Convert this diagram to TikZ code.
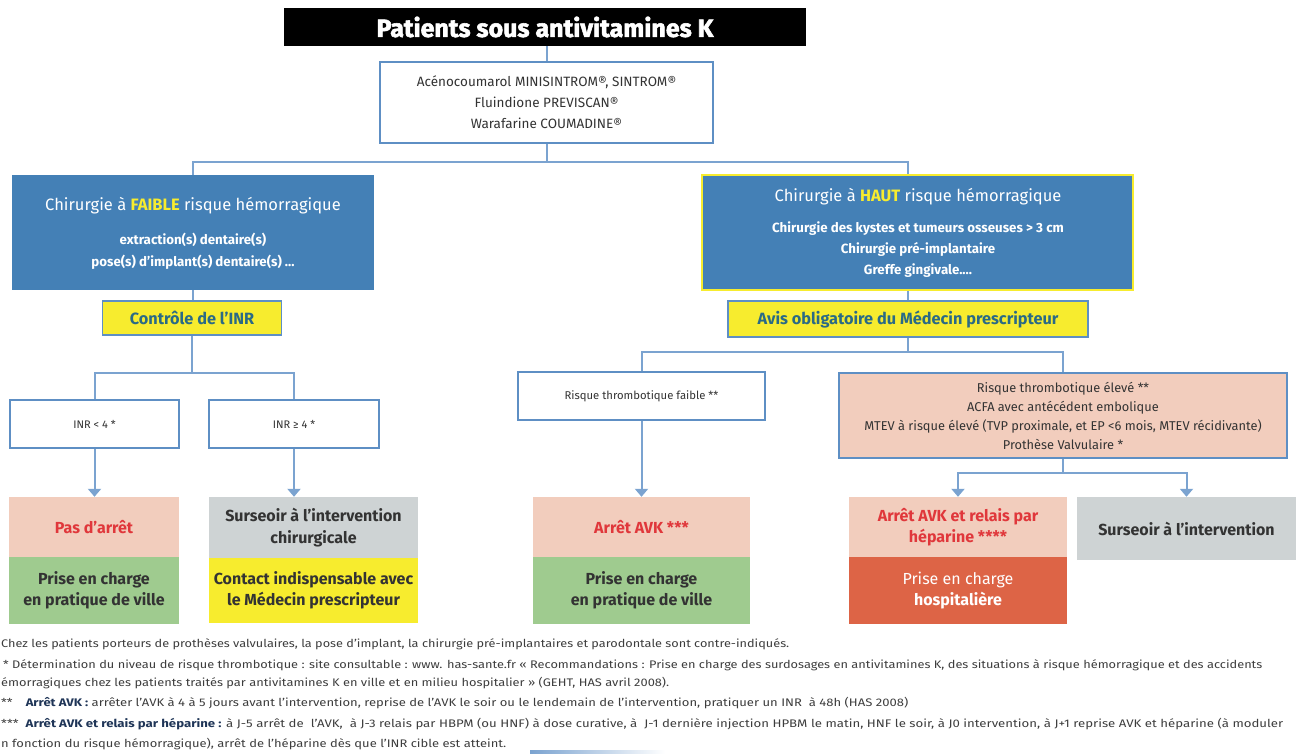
\documentclass[tikz,border=0pt]{standalone}
\usepackage{fontspec}
\setmainfont{Fira Sans}
\newfontfamily\titlefont[FakeBold=2.2]{Fira Sans}
\usetikzlibrary{arrows.meta,calc}
\definecolor{boxblue}{HTML}{4480B6}
\definecolor{lineblue}{HTML}{7BA3D0}
\definecolor{frameblue}{HTML}{5E8FC4}
\definecolor{hiyellow}{HTML}{F7EC2E}
\definecolor{salmon}{HTML}{F2CDBD}
\definecolor{vgreen}{HTML}{9FCB8F}
\definecolor{lgray}{HTML}{CED3D4}
\definecolor{hosp}{HTML}{DD6446}
\definecolor{redtxt}{HTML}{E0373B}
\definecolor{tealtxt}{HTML}{2A6A86}
\definecolor{darktxt}{HTML}{333333}
\definecolor{notetxt}{HTML}{3D3D3D}
\definecolor{navytxt}{HTML}{1F3557}
\newcommand\fitw[2]{\resizebox{#1}{\height}{#2}}
\tikzset{
  conn/.style={draw=lineblue, line width=2pt},
  arr/.style={conn, -{Triangle[width=13pt,length=8pt]}},
  whitebox/.style={draw=frameblue, line width=1.6pt, fill=white, inner sep=0pt, align=center, text=darktxt},
  bluebox/.style={fill=boxblue, inner sep=0pt, align=center, text=white},
  yelbox/.style={draw=frameblue, line width=1.4pt, fill=hiyellow, inner sep=0pt, align=center, text=tealtxt, font=\fontsize{16.3}{18}\selectfont\bfseries},
  resbox/.style={inner sep=0pt, align=center, font=\fontsize{16}{21.5}\selectfont\bfseries},
  note/.style={anchor=west, inner sep=0pt, text=notetxt, font=\fontsize{11}{12}\selectfont}
}
\begin{document}
\begin{tikzpicture}[x=1pt,y=-1pt]
\useasboundingbox (0,0) rectangle (1303,753);
% title
\node[fill=black, text=white, minimum width=522pt, minimum height=38pt, inner sep=0pt, font=\fontsize{25}{27}\titlefont\bfseries] (title) at (545,27) {Patients sous antivitamines K};
% drugs
\node[whitebox, minimum width=333pt, minimum height=81pt, font=\fontsize{13.5}{21}\selectfont] (drug) at (546.5,102.5)
  {Acénocoumarol MINISINTROM®, SINTROM®\\Fluindione PREVISCAN®\\Warafarine COUMADINE®};
% blue boxes
\node[bluebox, minimum width=362pt, minimum height=115pt] (lblue) at (193,232.5) {};
\node[text=white, font=\fontsize{16.5}{18}\selectfont] at (193,206) {Chirurgie à \textcolor{hiyellow}{\bfseries FAIBLE} risque hémorragique};
\node[text=white, align=center, font=\fontsize{13.3}{22}\selectfont\bfseries] at (193,251) {extraction(s) dentaire(s)\\pose(s) d’implant(s) dentaire(s) ...};
\node[bluebox, draw=hiyellow, line width=1.6pt, minimum width=431pt, minimum height=115pt] (rblue) at (917.5,232.5) {};
\node[text=white, font=\fontsize{16.5}{18}\selectfont] at (918,197) {Chirurgie à \textcolor{hiyellow}{\bfseries HAUT} risque hémorragique};
\node[text=white, align=center, font=\fontsize{13.3}{21}\selectfont\bfseries] at (918,250) {Chirurgie des kystes et tumeurs osseuses > 3 cm\\Chirurgie pré-implantaire\\Greffe gingivale....};
% yellow
\node[yelbox, minimum width=179pt, minimum height=34pt] (lyel) at (192,318) {Contrôle de l’INR};
\node[yelbox, minimum width=360pt, minimum height=36pt] (ryel) at (908,319) {Avis obligatoire du Médecin prescripteur};
% INR boxes
\node[whitebox, minimum width=169pt, minimum height=48pt, font=\fontsize{11}{13}\selectfont] (inra) at (94.5,424) {INR < 4 *};
\node[whitebox, minimum width=170pt, minimum height=48pt, font=\fontsize{11}{13}\selectfont] (inrb) at (294,424) {INR ≥ 4 *};
% right mid boxes
\node[whitebox, minimum width=247pt, minimum height=48pt, font=\fontsize{11.3}{13}\selectfont] (rfaible) at (641.5,396) {Risque thrombotique faible **};
\node[whitebox, fill=salmon, minimum width=448pt, minimum height=85pt, font=\fontsize{12.8}{19}\selectfont] (eleve) at (1063,415.5)
  {Risque thrombotique élevé **\\ACFA avec antécédent embolique\\MTEV à risque élevé (TVP proximale, et EP <6 mois, MTEV récidivante)\\Prothèse Valvulaire *};
% result boxes
\node[resbox, fill=salmon, text=redtxt, minimum width=170pt, minimum height=60pt] (pas) at (94,527) {Pas d’arrêt};
\node[resbox, fill=vgreen, text=darktxt, minimum width=170pt, minimum height=67pt] (villea) at (94,590.5) {Prise en charge\\en pratique de ville};
\node[resbox, fill=lgray, text=darktxt, minimum width=209pt, minimum height=61pt] (sursa) at (313.5,527.5) {Surseoir à l’intervention\\chirurgicale};
\node[resbox, fill=hiyellow, text=darktxt, minimum width=209pt, minimum height=65pt] (contact) at (313.5,590.5) {Contact indispensable avec\\le Médecin prescripteur};
\node[resbox, fill=salmon, text=redtxt, minimum width=217pt, minimum height=60pt] (arret) at (641.5,527) {Arrêt AVK ***};
\node[resbox, fill=vgreen, text=darktxt, minimum width=217pt, minimum height=67pt] (villeb) at (641.5,590.5) {Prise en charge\\en pratique de ville};
\node[resbox, fill=salmon, text=redtxt, minimum width=218pt, minimum height=60pt] (relais) at (958,527) {Arrêt AVK et relais par\\héparine ****};
\node[resbox, fill=hosp, text=white, minimum width=218pt, minimum height=67pt] (hospit) at (958,590.5) {{\mdseries Prise en charge}\\hospitalière};
\node[resbox, fill=lgray, text=darktxt, minimum width=219pt, minimum height=63pt] (sursb) at (1186.5,528.5) {Surseoir à l’intervention};
% connectors
\draw[conn] (title.south -| drug) -- (drug.north);
\draw[conn] (drug.south) -- ++(0,18) coordinate (h1) -| (lblue.north);
\draw[conn] (h1) -| (ryel.center |- rblue.north);
\draw[conn] (lblue.south) -- (lblue.south |- lyel.north);
\draw[conn] (ryel.center |- rblue.south) -- (ryel.north);
\draw[conn] (lyel.south) -- ++(0,37) coordinate (h2) -| (inra.north);
\draw[conn] (h2) -| (inrb.north);
\draw[arr] (inra.south) -- (inra.south |- pas.north);
\draw[arr] (inrb.south) -- (inrb.south |- sursa.north);
\draw[conn] (ryel.south) -- ++(0,14) coordinate (h3) -| (rfaible.north);
\draw[conn] (h3) -| (eleve.north);
\draw[arr] (rfaible.south) -- (arret.north);
\draw[conn] (eleve.south) -- ++(0,14) coordinate (h4);
\draw[arr] (h4) -| (relais.north);
\draw[arr] (h4) -| (sursb.north);
% footnotes
\node[note] (n1) at (1,644) {\fitw{788pt}{Chez les patients porteurs de prothèses valvulaires, la pose d’implant, la chirurgie pré-implantaires et parodontale sont contre-indiqués.}};
\node[note] (n2) at (3,665) {\fitw{1259pt}{* Détermination du niveau de risque thrombotique : site consultable : www. has-sante.fr « Recommandations : Prise en charge des surdosages en antivitamines K, des situations à risque hémorragique et des accidents}};
\node[note] (n3) at (1,683) {\fitw{668pt}{émorragiques chez les patients traités par antivitamines K en ville et en milieu hospitalier » (GEHT, HAS avril 2008).}};
\node[note] (n4) at (1,703) {\fitw{907pt}{**\quad\textcolor{navytxt}{\bfseries Arrêt AVK :} arrêter l’AVK à 4 à 5 jours avant l’intervention, reprise de l’AVK le soir ou le lendemain de l’intervention, pratiquer un INR\ \ à 48h (HAS 2008)}};
\node[note] (n5) at (1,724) {\fitw{1282pt}{***\ \ \textcolor{navytxt}{\bfseries Arrêt AVK et relais par héparine :} à J-5 arrêt de\ \ l’AVK,\ \ à J-3 relais par HBPM (ou HNF) à dose curative, à\ \ J-1 dernière injection HPBM le matin, HNF le soir, à J0 intervention, à J+1 reprise AVK et héparine (à moduler}};
\node[note] (n6) at (1,744) {\fitw{505pt}{n fonction du risque hémorragique), arrêt de l’héparine dès que l’INR cible est atteint.}};
\shade[left color=lineblue, right color=white] (530,750) rectangle (665,753);
\end{tikzpicture}
\end{document}
